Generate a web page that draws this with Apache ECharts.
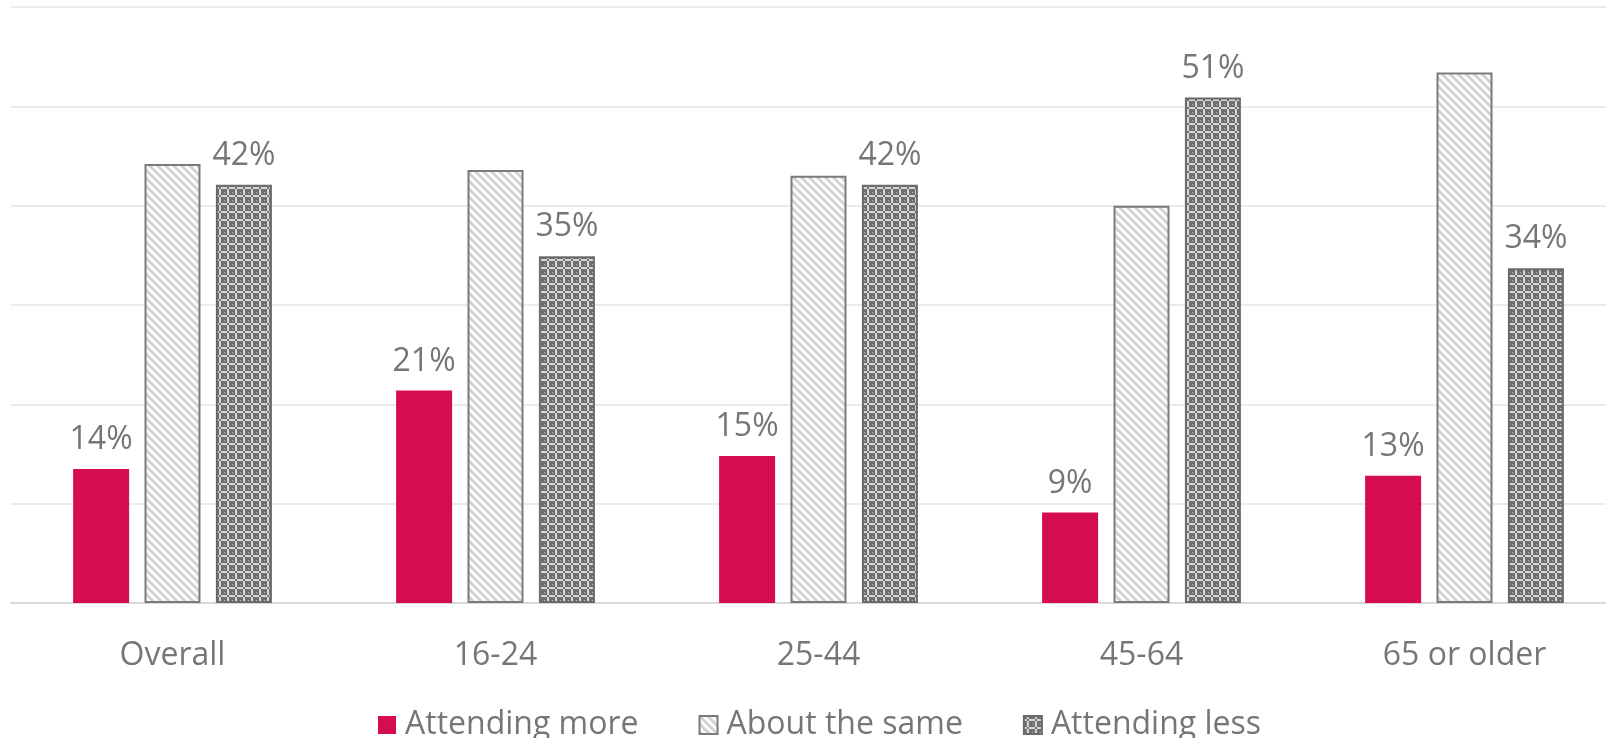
<!DOCTYPE html>
<html>
<head>
<meta charset="utf-8">
<script src="https://cdn.jsdelivr.net/npm/echarts@6/dist/echarts.min.js"></script>
<style>
html,body{margin:0;padding:0;background:#fff;overflow:hidden;}
#chart{width:1630px;height:738px;}
</style>
</head>
<body>
<div id="chart"></div>
<script>
const categories = ['Overall', '16-24', '25-44', '45-64', '65 or older'];
const attendingMore = [13.5, 21.4, 14.8, 9.1, 12.8];
const aboutTheSame = [44.2, 43.6, 43.0, 40.0, 53.4];
const attendingLess = [42.1, 34.9, 42.1, 50.9, 33.7];
const seriesNames = ['Attending more', 'About the same', 'Attending less'];

function stripePattern() {
  const c = document.createElement('canvas');
  c.width = 8; c.height = 8;
  const g = c.getContext('2d');
  g.fillStyle = '#ffffff';
  g.fillRect(0, 0, 8, 8);
  g.strokeStyle = '#d2d2d2';
  g.lineWidth = 3;
  g.beginPath();
  g.moveTo(-4, -4); g.lineTo(12, 12);
  g.moveTo(-4, 4); g.lineTo(4, 12);
  g.moveTo(4, -4); g.lineTo(12, 4);
  g.stroke();
  return c;
}
function gridPattern() {
  const c = document.createElement('canvas');
  c.width = 8; c.height = 8;
  const g = c.getContext('2d');
  g.fillStyle = '#6f6f6f';
  g.fillRect(0, 0, 8, 8);
  g.fillStyle = '#d8d8d8';
  g.fillRect(3, 0, 2, 8);
  g.fillRect(0, 3, 8, 2);
  g.fillStyle = '#6f6f6f';
  g.fillRect(3, 3, 2, 2);
  g.fillStyle = '#bcbcbc';
  g.fillRect(0, 0, 1, 1);
  return c;
}

const labelStyle = {
  show: true,
  position: 'top',
  distance: 13,
  color: '#767676',
  fontSize: 32,
  fontFamily: 'Open Sans',
  formatter: p => Math.round(p.value) + '%'
};

const chart = echarts.init(document.getElementById('chart'));
chart.setOption({
  animation: false,
  textStyle: { fontFamily: 'Open Sans' },
  grid: { left: 11, right: 4, top: 7, bottom: 135, containLabel: false },
  legend: {
    top: 704,
    left: 373,
    itemWidth: 18,
    itemHeight: 18,
    itemGap: 60,
    icon: 'rect',
    textStyle: { color: '#767676', fontSize: 32, fontFamily: 'Open Sans', padding: [0, 0, 0, 4] },
    data: seriesNames
  },
  xAxis: {
    type: 'category',
    data: categories,
    axisLine: { lineStyle: { color: '#d9d9d9', width: 2 } },
    axisTick: { show: false },
    axisLabel: { color: '#767676', fontSize: 32, fontFamily: 'Open Sans', margin: 37 }
  },
  yAxis: {
    type: 'value',
    min: 0, max: 60, interval: 10,
    axisLabel: { show: false },
    axisLine: { show: false },
    axisTick: { show: false },
    splitLine: { lineStyle: { color: '#ebebeb', width: 2 } }
  },
  series: [
    {
      name: seriesNames[0], type: 'bar', data: attendingMore,
      barWidth: 56, barGap: '27.5%',
      itemStyle: { color: '#D60C50' },
      label: labelStyle
    },
    {
      name: seriesNames[1], type: 'bar', data: aboutTheSame,
      barWidth: 56, barGap: '27.5%',
      itemStyle: { color: { image: stripePattern(), repeat: 'repeat' }, borderColor: '#7a7a7a', borderWidth: 2 },
      label: { show: false }
    },
    {
      name: seriesNames[2], type: 'bar', data: attendingLess,
      barWidth: 56, barGap: '27.5%',
      itemStyle: { color: { image: gridPattern(), repeat: 'repeat' }, borderColor: '#6a6a6a', borderWidth: 2 },
      label: labelStyle
    }
  ]
});
</script>
</body>
</html>
